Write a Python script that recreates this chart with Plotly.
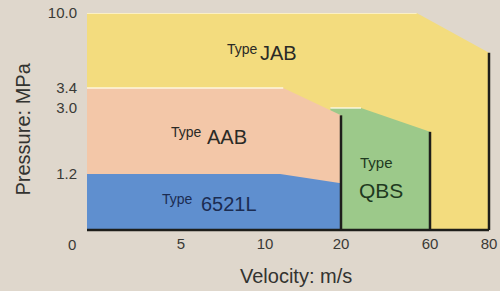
import numpy as np
import plotly.graph_objects as go

# ---- Axis scales (non-linear): tick values and where they sit along each axis ----
X_TICK_VALUES = [0, 5, 10, 20, 60, 80]
X_TICK_LABELS = ["0", "5", "10", "20", "60", "80"]
X_TICK_POS = [0, 94, 178, 254, 343, 402]

Y_TICK_VALUES = [0, 1.2, 3.0, 3.4, 10.0]
Y_TICK_LABELS = ["0", "1.2", "3.0", "3.4", "10.0"]
Y_TICK_POS = [0, 56, 122, 142, 217]

# ---- Operating regions (velocity m/s, pressure MPa) ----
jab_velocity = [0, 0, 54, 80, 80]
jab_pressure = [0, 10.0, 10.0, 6.5, 0]

qbs_velocity = [18.6, 18.6, 29, 60, 60]
qbs_pressure = [0, 3.0, 3.0, 2.35, 0]

aab_velocity = [0, 0, 12.4, 20, 20]
aab_pressure = [0, 3.4, 3.4, 2.8, 0]

l6521_velocity = [0, 0, 12, 20, 20]
l6521_pressure = [0, 1.2, 1.2, 1.0, 0]


def fx(v):
    return np.interp(v, X_TICK_VALUES, X_TICK_POS)


def fy(p):
    return np.interp(p, Y_TICK_VALUES, Y_TICK_POS)


W, H = 500, 291
ML, MR, MT, MB = 87, 9, 13, 59
PW, PH = W - ML - MR, H - MT - MB
X_RANGE = [0, PW]
Y_RANGE = [-2, PH - 2]


def px(x):
    return (x - ML) / PW


def py(y):
    return (H - MB - y) / PH


fig = go.Figure()

regions = [
    (jab_velocity, jab_pressure, "#f3dc7e"),
    (qbs_velocity, qbs_pressure, "#9cc98a"),
    (aab_velocity, aab_pressure, "#f3c7a8"),
    (l6521_velocity, l6521_pressure, "#5f8fcf"),
]
for vel, pres, col in regions:
    fig.add_trace(go.Scatter(
        x=fx(vel), y=fy(pres), mode="lines", fill="toself",
        fillcolor=col, line=dict(width=0, color=col), hoverinfo="skip",
        showlegend=False))

# light highlight on flat top edges
for vel, pres, col in regions[:3]:
    fig.add_trace(go.Scatter(
        x=fx(vel[1:3]), y=fy(pres[1:3]), mode="lines",
        line=dict(width=1.5, color="rgba(255,252,235,0.85)"),
        hoverinfo="skip", showlegend=False))

# dark boundary lines
for vel, pres in [(aab_velocity, aab_pressure), (qbs_velocity, qbs_pressure),
                  (jab_velocity, jab_pressure)]:
    fig.add_trace(go.Scatter(
        x=fx(vel[-2:]), y=fy(pres[-2:]), mode="lines",
        line=dict(width=2.5, color="#1e1e1a"), hoverinfo="skip",
        showlegend=False))
fig.add_trace(go.Scatter(
    x=fx([jab_velocity[0], jab_velocity[-1]]),
    y=fy([jab_pressure[0], jab_pressure[-1]]), mode="lines",
    line=dict(width=2.5, color="#1e1e1a"), hoverinfo="skip", showlegend=False))

FONT = "Liberation Sans, Arial, sans-serif"
TXT = "#2a2a26"

annotations = []


def label(text, x, y, size, color=TXT, angle=0):
    annotations.append(dict(
        text=text, x=px(x), y=py(y), xref="paper", yref="paper",
        xanchor="center", yanchor="middle", showarrow=False,
        textangle=angle, font=dict(family=FONT, size=size, color=color)))


label("Type", 242.5, 49, 14)
label("JAB", 278, 53.5, 20)
label("Type", 186, 131.5, 14)
label("AAB", 226.5, 137, 20)
label("Type", 177.5, 199, 14, "#1b2c52")
label("6521L", 228.5, 204, 20, "#1b2c52")
label("Type", 376.5, 162, 15, "#1f3a1f")
label("QBS", 381, 190.5, 21, "#1f3a1f")
label("0", 72, 244, 15, "#3a3a36")
label("Pressure: MPa", 22, 129.5, 20, "#333330", angle=-90)
label("Velocity: m/s", 296, 276, 20, "#333330")

fig.update_layout(
    width=W, height=H,
    margin=dict(l=ML, r=MR, t=MT, b=MB, pad=0, autoexpand=False),
    paper_bgcolor="#dfd7cc", plot_bgcolor="#dfd7cc",
    showlegend=False,
    annotations=annotations,
    xaxis=dict(range=X_RANGE, tickvals=fx(X_TICK_VALUES[1:]),
               ticktext=X_TICK_LABELS[1:], showgrid=False, zeroline=False,
               showline=False, ticks="", fixedrange=True, automargin=False,
               ticklabelstandoff=1,
               tickfont=dict(family=FONT, size=15, color="#3a3a36")),
    yaxis=dict(range=Y_RANGE, tickvals=fy(Y_TICK_VALUES[1:]),
               ticktext=Y_TICK_LABELS[1:], showgrid=False, zeroline=False,
               showline=False, ticks="", fixedrange=True, automargin=False,
               ticklabelstandoff=9,
               tickfont=dict(family=FONT, size=15, color="#3a3a36")),
)

fig.write_html(
    "out.html",
    config={"displayModeBar": False},
    post_script="document.body.style.margin='0';document.body.style.overflow='hidden';",
)
